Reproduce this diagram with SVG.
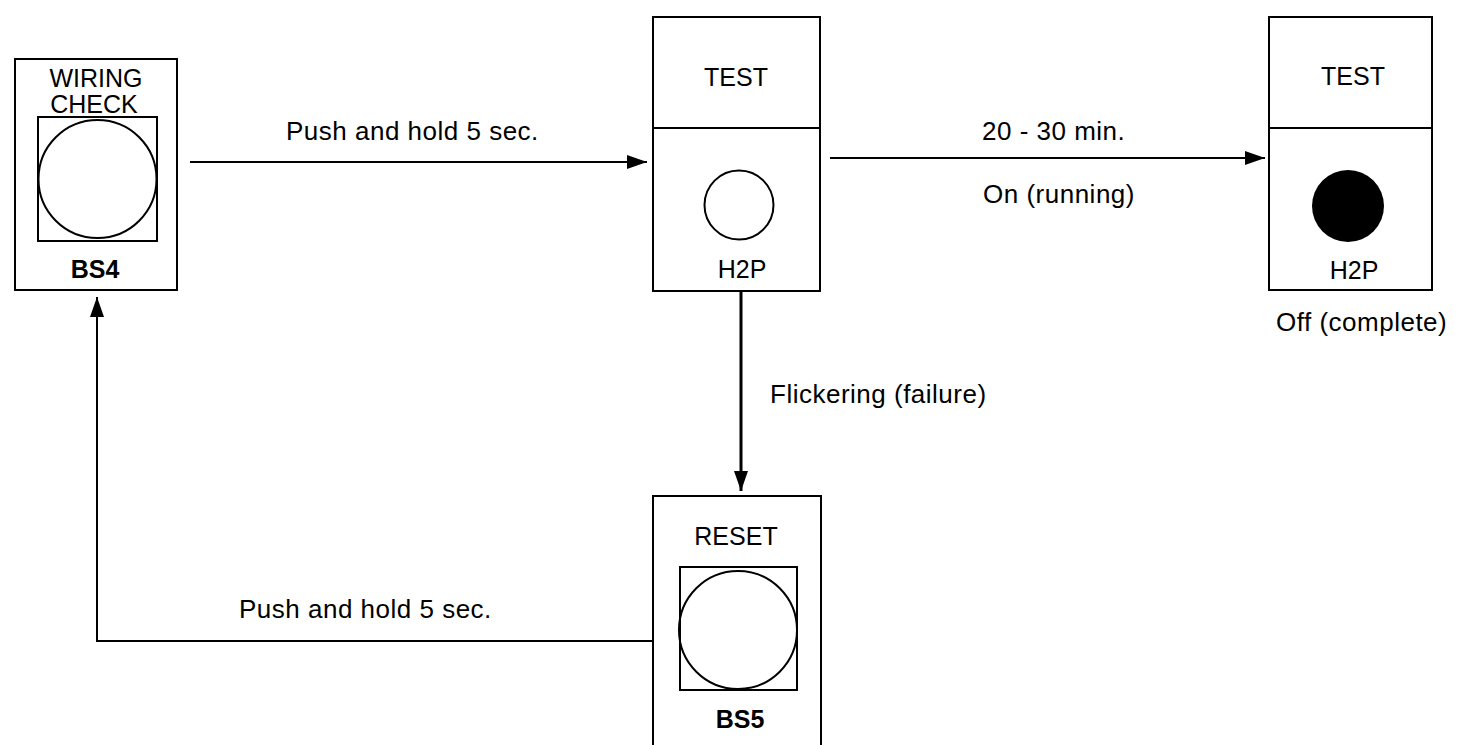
<svg xmlns="http://www.w3.org/2000/svg" width="1458" height="745" viewBox="0 0 1458 745">
<style>
.box{fill:none;stroke:#000;stroke-width:2}
.ln{fill:none;stroke:#000;stroke-width:2}
.thick{stroke-width:3}
.t{font-family:"Liberation Sans",Arial,sans-serif;font-size:26px;letter-spacing:0.5px;fill:#000}
.n{font-family:"Liberation Sans",Arial,sans-serif;font-size:25px;fill:#000;text-anchor:middle}
.b{font-family:"Liberation Sans",Arial,sans-serif;font-size:25px;font-weight:bold;fill:#000;text-anchor:middle}
</style>
<defs>
<marker id="ah" markerUnits="userSpaceOnUse" markerWidth="22" markerHeight="14" refX="20" refY="7" orient="auto" viewBox="0 0 22 14">
<polygon points="0,0 20,7 0,14" fill="#000"/>
</marker>
</defs>
<rect width="1458" height="745" fill="#fff"/>
<g id="connectors">
<line class="ln" x1="190" y1="162" x2="647" y2="162" marker-end="url(#ah)"/>
<line class="ln" x1="830" y1="158" x2="1265" y2="158" marker-end="url(#ah)"/>
<line class="ln thick" x1="741" y1="292" x2="741" y2="491" marker-end="url(#ah)"/>
<polyline class="ln" points="653,641 97,641 97,297" marker-end="url(#ah)"/>
<text class="t" x="286" y="140">Push and hold 5 sec.</text>
<text class="t" x="982" y="140">20 - 30 min.</text>
<text class="t" x="983" y="203">On (running)</text>
<text class="t" x="770" y="403">Flickering (failure)</text>
<text class="t" x="239" y="618">Push and hold 5 sec.</text>
</g>
<g id="bs4">
<rect class="box" x="15" y="59" width="162" height="231"/>
<rect class="box" x="38" y="117" width="119" height="124"/>
<circle class="box" cx="97.5" cy="179" r="59"/>
<text class="n" x="96" y="87">WIRING</text>
<text class="n" x="94" y="113">CHECK</text>
<text class="b" x="95" y="278">BS4</text>
</g>
<g id="test-running">
<rect class="box" x="653" y="17" width="167" height="274"/>
<line class="box" x1="653" y1="128" x2="820" y2="128"/>
<circle class="box" cx="739" cy="205" r="34.5"/>
<text class="n" x="736" y="86">TEST</text>
<text class="n" x="742" y="278">H2P</text>
</g>
<g id="test-complete">
<rect class="box" x="1269" y="17" width="163" height="273"/>
<line class="box" x1="1269" y1="128" x2="1432" y2="128"/>
<circle cx="1348" cy="206" r="36" fill="#000"/>
<text class="n" x="1353" y="85">TEST</text>
<text class="n" x="1354" y="279">H2P</text>
<text class="t" x="1276" y="331">Off (complete)</text>
</g>
<g id="bs5">
<rect class="box" x="653" y="496" width="168" height="270"/>
<rect class="box" x="680" y="567" width="117" height="123"/>
<circle class="box" cx="738" cy="630" r="59"/>
<text class="n" x="736" y="545">RESET</text>
<text class="b" x="740" y="728">BS5</text>
</g>
</svg>
